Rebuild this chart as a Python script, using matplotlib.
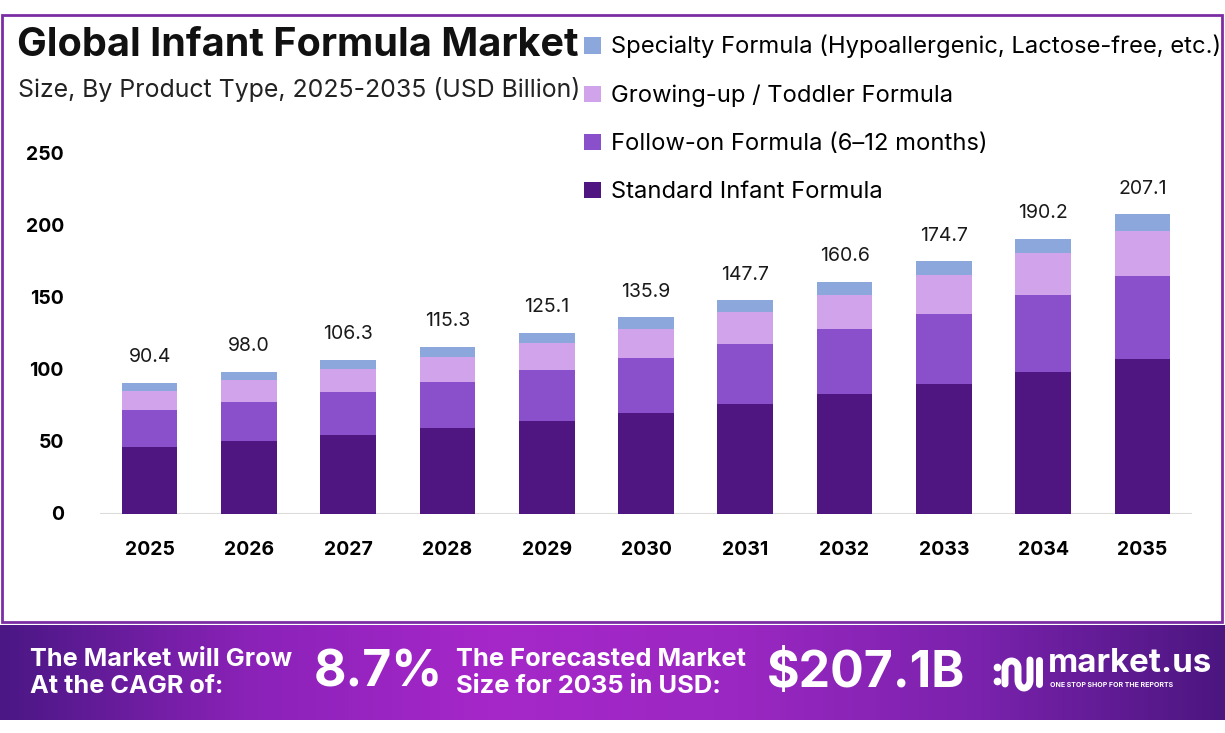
import matplotlib.pyplot as plt
import numpy as np
from matplotlib.patches import Rectangle
from matplotlib.lines import Line2D
from matplotlib.colors import LinearSegmentedColormap

plt.rcParams['font.family'] = ['Inter', 'DejaVu Sans']

# data (USD billion)
years = ['2025', '2026', '2027', '2028', '2029', '2030', '2031', '2032', '2033', '2034', '2035']
standard = [46.1, 50.3, 54.2, 59.3, 64.1, 69.7, 75.7, 82.8, 89.8, 97.9, 106.9]
follow_on = [25.4, 27.0, 30.0, 31.6, 35.1, 38.1, 41.6, 44.8, 48.7, 53.5, 57.5]
growing_up = [13.4, 15.0, 15.9, 17.5, 18.9, 19.9, 22.4, 24.0, 27.0, 28.7, 31.4]
specialty = [5.5, 5.7, 6.2, 6.9, 7.0, 8.2, 8.0, 9.0, 9.2, 10.1, 11.3]
totals = [90.4, 98.0, 106.3, 115.3, 125.1, 135.9, 147.7, 160.6, 174.7, 190.2, 207.1]

series = ['Standard Infant Formula', 'Follow-on Formula (6\u201312 months)',
          'Growing-up / Toddler Formula', 'Specialty Formula (Hypoallergenic, Lactose-free, etc.)']
colors = ['#4f1581', '#8a4fcb', '#d1a3ea', '#8ca7dc']

W, H = 1225, 733
fig = plt.figure(figsize=(W / 100, H / 100), dpi=100)


def fx(x):
    return x / W


def fy(y):
    return 1 - y / H


# outer border
fig.patches.append(Rectangle((fx(1.5), fy(622)), fx(1220), (622 - 15) / H,
                             transform=fig.transFigure, fill=False,
                             edgecolor='#7b2ea3', lw=2))

# main axes
ax = fig.add_axes([fx(100), fy(513.5), fx(1192) - fx(100), (513.5 - 152.5) / H])
pos = np.arange(len(years))
bottom = np.zeros(len(years))
for vals, c, name in zip([standard, follow_on, growing_up, specialty], colors, series):
    ax.bar(pos, vals, bottom=bottom, width=0.56, color=c, label=name, zorder=3)
    bottom += np.array(vals)

for i, t in enumerate(totals):
    ax.annotate(f'{t:.1f}', (pos[i], bottom[i]), xytext=(0, 12), textcoords='offset points',
                ha='center', va='bottom', fontsize=14, color='#1a1a1a')

ax.set_xlim(-0.5, len(years) - 0.5)
ax.set_ylim(0, 250)
ax.set_yticks([0, 50, 100, 150, 200, 250])
ax.set_xticks(pos, years)
ax.tick_params(length=0, labelsize=14)
ax.tick_params(axis='y', pad=26)
ax.tick_params(axis='x', pad=20)
for lab in ax.get_xticklabels() + ax.get_yticklabels():
    lab.set_fontweight('bold')
for s in ax.spines.values():
    s.set_visible(False)
ax.axhline(0, color='#dcdcdc', lw=1.5, zorder=2)
ax.patch.set_alpha(0)

# title
fig.text(fx(17), fy(46), 'Global Infant Formula Market', fontsize=28.5, fontweight='bold',
         va='center', ha='left', color='#111111')
fig.text(fx(18), fy(90), 'Size, By Product Type, 2025-2035 (USD Billion)', fontsize=17.9,
         va='center', ha='left', color='#222222')

# legend
h, l = ax.get_legend_handles_labels()
fig.legend(h[::-1], l[::-1], loc='upper left', bbox_to_anchor=(fx(584), fy(35)),
           frameon=False, fontsize=17.1, handlelength=0.7, handleheight=0.7,
           handletextpad=0.45, labelspacing=1.1, borderaxespad=0, borderpad=0)

# bottom banner with gradient
bax = fig.add_axes([0, fy(720), 1, (720 - 625) / H])
cmap = LinearSegmentedColormap.from_list('ban', ['#4a1784', '#8a22b8', '#a627c9', '#9b27c2',
                                                 '#7a22ad', '#4c1680'])
bax.imshow(np.linspace(0, 1, 256)[None, :], aspect='auto', cmap=cmap, extent=[0, 1, 0, 1])
bax.set_axis_off()

fig.text(fx(30), fy(673), 'The Market will Grow\nAt the CAGR of:', color='white', fontsize=18.2,
         fontweight='bold', va='center', ha='left', linespacing=1.25)
fig.text(fx(314), fy(673), '8.7%', color='white', fontsize=36, fontweight='bold',
         va='center', ha='left')
fig.text(fx(456), fy(673), 'The Forecasted Market\nSize for 2035 in USD:', color='white', fontsize=18.4,
         fontweight='bold', va='center', ha='left', linespacing=1.25)
fig.text(fx(767), fy(673), '$207.1B', color='white', fontsize=36, fontweight='bold',
         va='center', ha='left')

# market.us logo
lw = 5
for yy in (667, 681):
    fig.lines.append(Line2D([fx(997)], [fy(yy)], marker='o', ms=4.5, color='white',
                            transform=fig.transFigure))
t = np.linspace(np.pi, 0, 30)
xs = np.concatenate([[1005, 1005], 1011.5 + 6.5 * np.cos(t), [1018, 1018]])
ys = np.concatenate([[684, 668], 668 - 7 * np.sin(t), [668, 680]])
t2 = np.linspace(np.pi, 2 * np.pi, 30)
xs = np.concatenate([xs, 1024 + 6 * np.cos(t2), [1030, 1030]])
ys = np.concatenate([ys, 680 - 8 * np.sin(t2), [680, 660]])
fig.lines.append(Line2D(fx(xs), fy(ys), color='white', lw=lw, solid_capstyle='round',
                        transform=fig.transFigure))
fig.lines.append(Line2D([fx(1039), fx(1039)], [fy(660), fy(684)], color='white', lw=lw,
                        solid_capstyle='round', transform=fig.transFigure))
fig.text(fx(1048), fy(664), 'market.us', color='white', fontsize=23.8, fontweight='bold',
         va='center', ha='left')
fig.text(fx(1050), fy(685), 'ONE STOP SHOP FOR THE REPORTS', color='white', fontsize=5,
         fontweight='bold', va='center', ha='left')

fig.savefig('out.png', dpi=100)
